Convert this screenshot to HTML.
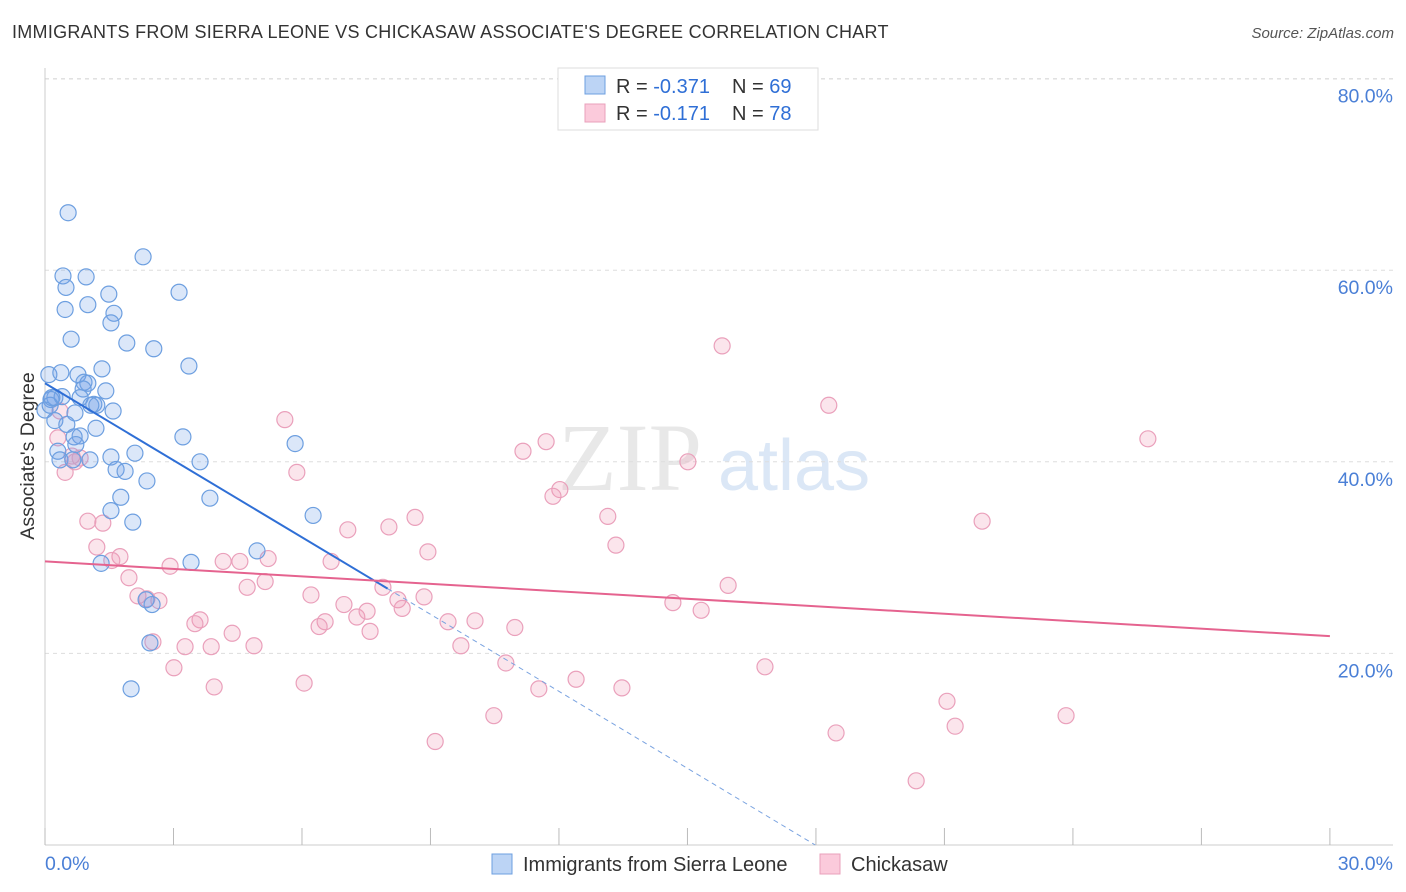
<!DOCTYPE html>
<html><head><meta charset="utf-8">
<style>
body{margin:0;background:#fff;font-family:"Liberation Sans",sans-serif;}
#wrap{position:relative;width:1406px;height:892px;overflow:hidden;}
.t{position:absolute;white-space:nowrap;}
</style></head><body>
<div id="wrap">
<div class="t" style="left:12px;top:22px;font-size:18px;letter-spacing:0.28px;color:#333;">IMMIGRANTS FROM SIERRA LEONE VS CHICKASAW ASSOCIATE'S DEGREE CORRELATION CHART</div>
<div class="t" style="right:12px;top:25px;font-size:15px;color:#555;font-style:italic;">Source: ZipAtlas.com</div>
<svg id="chart" width="1406" height="892" style="position:absolute;left:0;top:0"></svg>
</div>
<script>
const xTicks=[0,3,6,9,12,15,18,21,24,27,30];
const yTicks=[20,40,60,80];
const blueX=[0.54,2.29,0.42,0.96,0.49,3.13,1.49,1.00,0.47,1.61,1.54,0.61,1.91,2.54,3.36,0.09,0.37,1.33,0.77,0.91,1.00,0.89,1.42,0.23,0.14,0.40,0.82,1.14,1.07,1.21,1.59,0.70,0.23,0.51,1.19,0.82,0.68,3.22,0.72,5.84,0.30,1.54,2.10,0.35,0.65,1.05,3.62,1.66,1.87,2.38,1.77,3.85,1.54,6.26,2.05,4.95,3.41,1.31,2.36,2.50,2.45,2.01,0.0,0.12,0.16];
const blueY=[66.0,61.4,59.4,59.3,58.2,57.7,57.5,56.4,55.9,55.5,54.5,52.8,52.4,51.8,50.0,49.1,49.3,49.7,49.1,48.3,48.2,47.6,47.4,46.7,46.5,46.8,46.7,46.0,45.9,45.9,45.3,45.1,44.3,43.9,43.5,42.7,42.6,42.6,41.8,41.9,41.1,40.5,40.9,40.2,40.2,40.2,40.0,39.2,39.0,38.0,36.3,36.2,34.9,34.4,33.7,30.7,29.5,29.4,25.6,25.1,21.1,16.3,45.4,45.9,46.7];
const pinkX=[15.81,5.60,18.30,25.75,11.70,11.16,15.01,5.88,0.47,0.70,0.63,0.82,0.30,0.35,12.02,11.86,8.64,13.14,1.00,1.35,21.88,7.07,8.03,13.33,8.94,1.21,1.75,1.56,6.68,5.21,4.55,4.16,2.92,1.96,5.14,15.95,4.72,7.89,8.85,2.17,2.38,2.66,6.21,8.24,8.34,6.98,14.66,15.32,7.28,7.52,3.62,3.50,6.54,6.40,9.41,10.04,10.97,4.37,7.59,4.88,3.88,3.27,2.52,9.71,10.76,3.01,16.81,12.40,11.53,13.47,6.05,3.95,21.06,10.48,23.84,21.25,18.47,9.11,20.34];
const pinkY=[52.1,44.4,45.9,42.4,42.1,41.1,40.0,38.9,38.9,40.0,40.6,40.4,42.5,45.3,37.1,36.4,34.2,34.3,33.8,33.6,33.8,32.9,33.2,31.3,30.6,31.1,30.1,29.7,29.6,29.9,29.6,29.6,29.1,27.9,27.5,27.1,26.9,26.9,25.9,26.0,25.7,25.5,26.1,25.6,24.7,25.1,25.3,24.5,23.8,24.4,23.5,23.1,23.3,22.8,23.3,23.4,22.7,22.1,22.3,20.8,20.7,20.7,21.2,20.8,19.0,18.5,18.6,17.3,16.3,16.4,16.9,16.5,15.0,13.5,13.5,12.4,11.7,10.8,6.7];
const blueFit=[48.2,-2.68];
const blueSolidEnd=8.0;
const pinkFit=[29.6,-0.26];
const X=v=>45+v*42.83, Y=v=>845-v*9.58;
const svg=document.getElementById('chart');const NS='http://www.w3.org/2000/svg';
function mk(tag,attrs,name,parent){const e=document.createElementNS(NS,tag);for(const k in attrs)e.setAttribute(k,attrs[k]);


(parent||svg).appendChild(e);return e;}
let wm=mk('text',{x:558,y:490,'font-size':96,'font-family':'Liberation Serif',fill:'#e8e8e8'},'watermark-zip');wm.textContent='ZIP';
let wm2=mk('text',{x:718,y:490,'font-size':72,'font-family':'Liberation Sans',fill:'#dbe7f6'},'watermark-atlas');wm2.textContent='atlas';
yTicks.forEach(t=>{mk('line',{x1:45,x2:1393,y1:Y(t),y2:Y(t),stroke:'#ddd','stroke-dasharray':'4,4'},'gridline-y');
const l=mk('text',{x:1393,y:Y(t)+24,'text-anchor':'end','font-size':19.5,fill:'#4a7fd6'},'y-tick-label');l.textContent=t.toFixed(1)+'%';});
mk('line',{x1:45,x2:1393,y1:79,y2:79,stroke:'#ddd','stroke-dasharray':'4,4'},'gridline-top');
mk('line',{x1:45,x2:45,y1:68,y2:845,stroke:'#ccc'},'y-axis-line');
mk('line',{x1:45,x2:1393,y1:845,y2:845,stroke:'#ccc'},'x-axis-line');
xTicks.forEach(t=>mk('line',{x1:X(t),x2:X(t),y1:828,y2:845,stroke:'#bbb'},'x-tick'));
let xl=mk('text',{x:45,y:870,'font-size':19.5,fill:'#4a7fd6'},'x-tick-label-min');xl.textContent='0.0%';
let xr=mk('text',{x:1393,y:870,'text-anchor':'end','font-size':19.5,fill:'#4a7fd6'},'x-tick-label-max');xr.textContent='30.0%';
let yt=mk('text',{x:34,y:456,'font-size':19.5,fill:'#333','text-anchor':'middle',transform:'rotate(-90 34 456)'},'y-axis-title');yt.textContent="Associate's Degree";
pinkX.forEach((x,i)=>mk('circle',{cx:X(x),cy:Y(pinkY[i]),r:8,fill:'rgba(240,150,180,0.25)',stroke:'#eaa0bb','stroke-width':1.2},'pink-point'));
blueX.forEach((x,i)=>mk('circle',{cx:X(x),cy:Y(blueY[i]),r:8,fill:'rgba(110,160,230,0.25)',stroke:'#6d9fe0','stroke-width':1.2},'blue-point'));
const bz=-blueFit[0]/blueFit[1];
mk('line',{x1:X(0),y1:Y(blueFit[0]),x2:X(blueSolidEnd),y2:Y(blueFit[0]+blueFit[1]*blueSolidEnd),stroke:'#2f6fd6','stroke-width':2},'blue-trend-line');
mk('line',{x1:X(blueSolidEnd),y1:Y(blueFit[0]+blueFit[1]*blueSolidEnd),x2:X(bz),y2:Y(0),stroke:'#7aa3e0','stroke-width':1,'stroke-dasharray':'5,4'},'blue-trend-extension');
mk('line',{x1:X(0),y1:Y(pinkFit[0]),x2:X(30),y2:Y(pinkFit[0]+pinkFit[1]*30),stroke:'#e5638f','stroke-width':2},'pink-trend-line');
const lg=mk('g',{},'stats-legend');
mk('rect',{x:558,y:68,width:260,height:62,fill:'#fff',stroke:'#ddd'},'legend-box',lg);
mk('rect',{x:585,y:76,width:20,height:18,fill:'#bcd4f5',stroke:'#6d9fe0'},'legend-swatch-blue',lg);
mk('rect',{x:585,y:104,width:20,height:18,fill:'#fbcadb',stroke:'#eaa0bb'},'legend-swatch-pink',lg);
function rt(y,r,n,name){const t=mk('text',{x:616,y:y,'font-size':20,fill:'#333'},name,lg);
t.innerHTML='R = <tspan fill="#2f6fd6">'+r+'</tspan>  <tspan x="732">N = </tspan><tspan fill="#2f6fd6">'+n+'</tspan>';}
rt(93,' -0.371',69,'legend-row-blue');rt(120,'  -0.171',78,'legend-row-pink');
mk('rect',{x:492,y:854,width:20,height:20,fill:'#bcd4f5',stroke:'#6d9fe0'},'bottom-legend-swatch-blue');
let b1=mk('text',{x:523,y:871,'font-size':20,fill:'#333'},'bottom-legend-blue');b1.textContent='Immigrants from Sierra Leone';
mk('rect',{x:820,y:854,width:20,height:20,fill:'#fbcadb',stroke:'#eaa0bb'},'bottom-legend-swatch-pink');
let b2=mk('text',{x:851,y:871,'font-size':20,fill:'#333'},'bottom-legend-pink');b2.textContent='Chickasaw';
</script>
</body></html>
